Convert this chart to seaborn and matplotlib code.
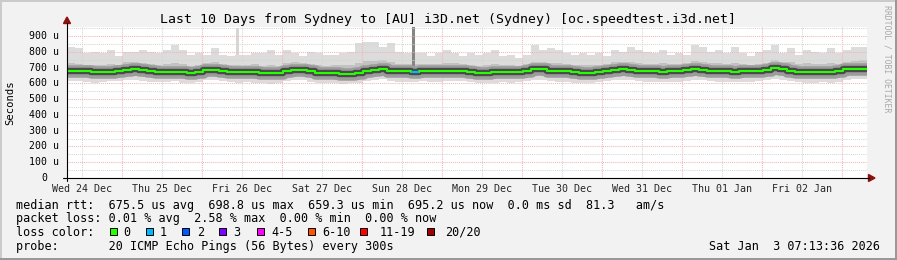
import numpy as np
import pandas as pd
import matplotlib
matplotlib.use("Agg")
import matplotlib.pyplot as plt
import seaborn as sns
from matplotlib.patches import Rectangle, Polygon
from matplotlib.lines import Line2D

# ---------------- data ----------------
start_hour = 7.5     # hours after Wed 24 Dec 00:00
bin_hours = 2.4      # width of one consolidated step

median_rtt = [680, 680, 675, 673, 673, 672, 676, 686, 688, 684,
              678, 674, 674, 673, 670, 668, 674, 682, 686, 680,
              673, 671, 671, 670, 664, 663, 664, 680, 686, 686,
              676, 668, 666, 663, 662, 662, 664, 680, 686, 692,
              680, 676, 675, 674, 675, 676, 675, 676, 680, 680,
              672, 666, 666, 669, 670, 670, 674, 680, 688, 688,
              680, 677, 676, 672, 667, 667, 670, 678, 687, 688,
              684, 678, 676, 675, 674, 675, 676, 682, 692, 686,
              680, 676, 675, 674, 675, 675, 677, 684, 694, 688,
              680, 673, 670, 670, 671, 670, 676, 690, 692, 692]

smoke_max = [833, 822, 790, 800, 790, 812, 770, 800, 800, 812,
             800, 790, 812, 843, 812, 780, 790, 780, 822, 780,
             770, 780, 780, 790, 790, 812, 780, 812, 790, 770,
             800, 790, 780, 780, 790, 800, 854, 864, 864, 833,
             854, 800, 790, 790, 790, 770, 790, 812, 790, 770,
             790, 780, 790, 812, 770, 780, 760, 780, 843, 812,
             822, 812, 790, 780, 790, 780, 790, 770, 812, 800,
             833, 812, 800, 790, 812, 780, 790, 780, 843, 833,
             800, 812, 790, 833, 790, 770, 800, 812, 843, 790,
             822, 780, 812, 800, 790, 822, 790, 812, 833, 833]

smoke_min = [612, 615, 608, 605, 610, 612, 615, 618, 620, 615,
             610, 606, 608, 612, 605, 602, 610, 618, 622, 615,
             608, 604, 606, 605, 600, 598, 602, 615, 620, 618,
             610, 604, 602, 600, 598, 600, 603, 615, 620, 625,
             615, 610, 608, 610, 612, 610, 608, 612, 615, 614,
             606, 600, 602, 605, 606, 604, 610, 616, 622, 620,
             614, 610, 608, 604, 600, 602, 606, 612, 620, 622,
             618, 612, 610, 608, 609, 610, 610, 616, 624, 620,
             614, 610, 608, 607, 608, 610, 612, 618, 626, 622,
             614, 606, 604, 605, 606, 604, 610, 622, 625, 625]

smoke_hi = [728, 722, 715, 718, 716, 720, 715, 732, 738, 730,
            722, 718, 725, 730, 720, 712, 718, 726, 735, 724,
            716, 718, 715, 720, 712, 716, 710, 728, 732, 730,
            722, 716, 712, 714, 715, 718, 730, 740, 742, 745,
            732, 722, 720, 724, 722, 720, 722, 728, 726, 724,
            716, 712, 715, 720, 714, 716, 712, 722, 735, 732,
            728, 726, 720, 718, 716, 714, 718, 722, 734, 736,
            738, 728, 722, 724, 728, 720, 722, 730, 742, 738,
            726, 730, 722, 728, 720, 718, 724, 730, 745, 734,
            732, 720, 726, 722, 720, 728, 724, 738, 742, 745]

smoke_lo = [640, 642, 638, 636, 635, 636, 640, 646, 648, 645,
            640, 636, 636, 635, 632, 630, 636, 644, 648, 642,
            636, 634, 634, 632, 626, 625, 628, 642, 648, 646,
            638, 630, 628, 626, 625, 625, 628, 642, 648, 652,
            642, 638, 637, 636, 637, 638, 637, 638, 642, 642,
            634, 628, 629, 632, 633, 632, 636, 642, 648, 648,
            642, 639, 638, 634, 630, 630, 632, 640, 648, 648,
            646, 640, 638, 637, 636, 637, 638, 644, 652, 648,
            642, 638, 637, 636, 637, 637, 639, 646, 654, 648,
            642, 635, 632, 632, 633, 632, 638, 650, 652, 652]

# bins where pings were lost (index, lost pings of 20)
loss_bins = [43]
loss_counts = [1]

# isolated tall smoke spikes
spike_hour = [58.65, 111.45]
spike_base = [780, 676]
spike_top = [951, 957]
spike_width = [0.7, 1.0]
spike_color = ["#d6d6d6", "#858585"]

day_labels = ["Wed 24 Dec", "Thu 25 Dec", "Fri 26 Dec", "Sat 27 Dec", "Sun 28 Dec",
              "Mon 29 Dec", "Tue 30 Dec", "Wed 31 Dec", "Thu 01 Jan", "Fri 02 Jan"]
y_ticks = [0, 100, 200, 300, 400, 500, 600, 700, 800, 900]
y_labels = ["0", "100 u", "200 u", "300 u", "400 u", "500 u", "600 u", "700 u", "800 u", "900 u"]

loss_legend = ["0", "1", "2", "3", "4-5", "6-10", "11-19", "20/20"]
loss_colors = ["#26ff00", "#00b8ff", "#0059ff", "#7e00ff", "#ff00ff", "#ff5500", "#ff0000", "#a10000"]

title = "Last 10 Days from Sydney to [AU] i3D.net (Sydney) [oc.speedtest.i3d.net]"
line_rtt = "median rtt:  675.5 us avg  698.8 us max  659.3 us min  695.2 us now  0.0 ms sd  81.3   am/s"
line_loss = "packet loss: 0.01 % avg  2.58 % max  0.00 % min  0.00 % now"
line_probe = "probe:       20 ICMP Echo Pings (56 Bytes) every 300s"
stamp = "Sat Jan  3 07:13:36 2026"

# ---------------- style ----------------
sns.set_theme(style="white")
plt.rcParams["font.family"] = ["DejaVu Sans Mono"]
plt.rcParams["text.color"] = "black"

W, H = 897, 260
BG = "#f2f2f2"
fig = plt.figure(figsize=(W / 100, H / 100), dpi=100, facecolor=BG)


def fx(px):
    return px / W


def fy(py):
    return 1 - py / H


x0, x1, ybot, ytop = 67, 867, 178, 27.3
ax = fig.add_axes([fx(x0), fy(ybot), (x1 - x0) / W, (ybot - ytop) / H])
ax.set_facecolor("white")

n = len(median_rtt)
edges = start_hour + bin_hours * np.arange(n + 1)


def ext(a):
    return np.append(np.asarray(a, float), a[-1])


ax.fill_between(edges, ext(smoke_min), ext(smoke_max), step="post",
                color="#dcdcdc", lw=0, zorder=1)
ax.fill_between(edges, ext(smoke_lo), ext(smoke_hi), step="post",
                color="#c2c2c2", lw=0, zorder=1.1)
ax.bar(spike_hour, np.array(spike_top) - np.array(spike_base), bottom=spike_base,
       width=spike_width, color=spike_color, lw=0, zorder=1.2)

df = pd.DataFrame({"t": edges, "rtt": ext(median_rtt)})
for col, lw in [("#9c9c9c", 9.0), ("#4a4a4a", 4.6), (loss_colors[0], 1.5)]:
    sns.lineplot(data=df, x="t", y="rtt", drawstyle="steps-post", color=col,
                 lw=lw, ax=ax, estimator=None, zorder=2)
for b, c in zip(loss_bins, loss_counts):
    ax.hlines(median_rtt[b], edges[b], edges[b + 1], color=loss_colors[c], lw=1.5, zorder=2.3)

ax.set_xlim(start_hour, start_hour + bin_hours * n)
ax.set_ylim(0, 955)
ax.set_xlabel("")
ax.set_ylabel("")

majors_x = np.arange(24, 241, 24)
noons = np.arange(12, 229, 24)
ax.set_xticks(majors_x)
ax.set_xticks(noons, labels=day_labels, minor=True)
ax.set_yticks(y_ticks)
ax.set_yticks(np.arange(50, 951, 100), minor=True)
ax.set_yticklabels([])
ax.tick_params(axis="x", which="major", labelbottom=False, length=2, width=0.75,
               color="#eeb0b0", direction="out")
ax.tick_params(axis="x", which="minor", length=0, pad=4, labelsize=7.2)
ax.tick_params(axis="y", which="major", length=2, width=0.75, color="#eeb0b0", direction="out")
ax.tick_params(axis="y", which="minor", length=0)
ax.grid(which="major", color="#f2b6b6", linestyle=(0, (1, 1)), lw=0.75)
ax.grid(which="minor", color="#d6d6d6", linestyle=(0, (1, 1)), lw=0.75)
ax.set_axisbelow("line")
for s in ax.spines.values():
    s.set_visible(False)

for v, lab in zip(y_ticks, y_labels):
    off = 8 if lab.endswith("u") else 20
    ax.text(-off / (x1 - x0), v, lab, transform=ax.get_yaxis_transform(),
            ha="right", va="center", fontsize=7.1)

# axes lines and arrows
ARR = "#8b1010"
fig.add_artist(Line2D([fx(67), fx(67)], [fy(181), fy(23)], color="black", lw=0.8,
                      transform=fig.transFigure))
fig.add_artist(Line2D([fx(63), fx(869)], [fy(178), fy(178)], color="black", lw=0.8,
                      transform=fig.transFigure))
fig.add_artist(Polygon([(fx(67), fy(17)), (fx(63.5), fy(23.5)), (fx(70.5), fy(23.5))],
                       closed=True, color=ARR, transform=fig.transFigure))
fig.add_artist(Polygon([(fx(875), fy(178)), (fx(868.5), fy(174.5)), (fx(868.5), fy(181.5))],
                       closed=True, color=ARR, transform=fig.transFigure))

# texts
fig.text(fx(448), fy(20), title, ha="center", va="center", fontsize=9.55)
fig.text(fx(10), fy(103), "Seconds", rotation=90, ha="center", va="center", fontsize=7.6)
fig.text(fx(887), fy(59), "RRDTOOL / TOBI OETIKER", rotation=270, ha="center", va="center",
         fontsize=5.9, color="#a8a8a8")

FS = 8.5
fig.text(fx(16), fy(205), line_rtt, ha="left", va="center", fontsize=FS)
fig.text(fx(16), fy(218.5), line_loss, ha="left", va="center", fontsize=FS)
fig.text(fx(16), fy(232), "loss color:", ha="left", va="center", fontsize=FS)
fig.text(fx(16), fy(246.5), line_probe, ha="left", va="center", fontsize=FS)
fig.text(fx(880), fy(246.5), stamp, ha="right", va="center", fontsize=FS)

sq_x = [110, 146, 182, 219, 257, 308, 360, 427]
lab_x = [123, 160, 197, 233, 271, 322, 380, 445]
for sx, lx, lab, col in zip(sq_x, lab_x, loss_legend, loss_colors):
    fig.add_artist(Rectangle((fx(sx), fy(235)), 7 / W, 7 / H, transform=fig.transFigure,
                             facecolor=col, edgecolor="black", lw=0.7))
    fig.text(fx(lx), fy(232), lab, ha="left", va="center", fontsize=FS)

# 3D frame
fig.add_artist(Rectangle((0, 0), 2 / W, 1, transform=fig.transFigure, color="#cbcbcb", lw=0))
fig.add_artist(Rectangle((0, 1 - 2 / H), 1, 2 / H, transform=fig.transFigure, color="#cbcbcb", lw=0))
fig.add_artist(Rectangle((1 - 2 / W, 0), 2 / W, 1, transform=fig.transFigure, color="#999999", lw=0))
fig.add_artist(Rectangle((0, 0), 1, 2 / H, transform=fig.transFigure, color="#999999", lw=0))

fig.savefig("out.png", dpi=100, facecolor=BG)
